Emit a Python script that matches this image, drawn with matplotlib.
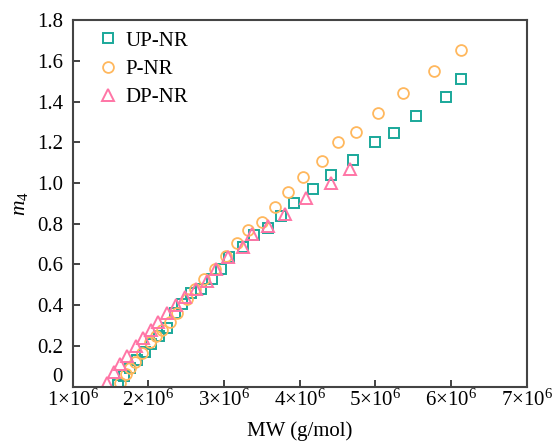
import matplotlib
matplotlib.use("Agg")
import matplotlib.pyplot as plt

plt.rcParams['font.family'] = ['Liberation Serif', 'DejaVu Serif']
plt.rcParams['mathtext.fontset'] = 'custom'
plt.rcParams['mathtext.rm'] = 'Liberation Serif'
plt.rcParams['mathtext.it'] = 'Liberation Serif:italic'

# MW in units of 1e6 g/mol
up_x = [1.60, 1.68, 1.76, 1.85, 1.95, 2.04, 2.14, 2.24, 2.35, 2.45, 2.57, 2.70, 2.84, 2.96,
        3.07, 3.25, 3.39, 3.58, 3.75, 3.92, 4.17, 4.42, 4.70, 4.99, 5.24, 5.54, 5.94, 6.13]
up_y = [0.01, 0.05, 0.09, 0.13, 0.17, 0.21, 0.25, 0.29, 0.36, 0.405, 0.46, 0.48, 0.53, 0.58,
        0.635, 0.685, 0.745, 0.78, 0.84, 0.90, 0.97, 1.04, 1.115, 1.20, 1.245, 1.33, 1.42, 1.51]

p_x = [1.62, 1.70, 1.76, 1.82, 1.92, 2.02, 2.10, 2.18, 2.28, 2.38, 2.51, 2.62, 2.74, 2.88,
       3.02, 3.17, 3.32, 3.50, 3.67, 3.84, 4.04, 4.29, 4.51, 4.75, 5.03, 5.37, 5.78, 6.13]
p_y = [0.02, 0.06, 0.09, 0.12, 0.165, 0.22, 0.25, 0.28, 0.32, 0.36, 0.43, 0.48, 0.53, 0.58,
       0.64, 0.705, 0.77, 0.81, 0.88, 0.955, 1.03, 1.108, 1.20, 1.25, 1.343, 1.44, 1.55, 1.653]

dp_x = [1.45, 1.55, 1.63, 1.72, 1.83, 1.93, 2.03, 2.13, 2.25, 2.37, 2.49, 2.63, 2.77, 2.89,
        3.05, 3.25, 3.37, 3.58, 3.80, 4.08, 4.42, 4.67]
dp_y = [0.02, 0.07, 0.11, 0.15, 0.20, 0.24, 0.28, 0.32, 0.36, 0.40, 0.44, 0.48, 0.52, 0.58,
        0.635, 0.685, 0.75, 0.79, 0.85, 0.925, 1.00, 1.07]

x_ticks = [1, 2, 3, 4, 5, 6, 7]
x_ticklabels = [r'1$\times$10$^{6}$', r'2$\times$10$^{6}$', r'3$\times$10$^{6}$', r'4$\times$10$^{6}$',
                r'5$\times$10$^{6}$', r'6$\times$10$^{6}$', r'7$\times$10$^{6}$']
y_ticks = [0, 0.2, 0.4, 0.6, 0.8, 1.0, 1.2, 1.4, 1.6, 1.8]
y_ticklabels = ['0', '0.2', '0.4', '0.6', '0.8', '1.0', '1.2', '1.4', '1.6', '1.8']

fig = plt.figure(figsize=(5.55, 4.46), dpi=100)
ax = fig.add_axes([0.131, 0.133, 0.818, 0.822])

teal = '#1aa89a'
orange = '#ffb85e'
pink = '#ff75a6'

ax.plot(up_x, up_y, linestyle='none', marker='s', markersize=7, markerfacecolor='none',
        markeredgecolor=teal, markeredgewidth=1.4, label='UP-NR')
ax.plot(p_x, p_y, linestyle='none', marker='o', markersize=7.8, markerfacecolor='none',
        markeredgecolor=orange, markeredgewidth=1.3, label='P-NR')
ax.plot(dp_x, dp_y, linestyle='none', marker='^', markersize=8.5, markerfacecolor='none',
        markeredgecolor=pink, markeredgewidth=1.4, label='DP-NR')

ax.set_xlim(1, 7)
ax.set_ylim(0, 1.8)
ax.set_xticks(x_ticks)
ax.set_xticklabels(x_ticklabels)
ax.set_yticks(y_ticks)
ax.set_yticklabels(y_ticklabels)
ax.tick_params(direction='in', length=5, width=1.2, labelsize=15,
               top=False, right=False, colors='#222222', labelcolor='black')
ax.tick_params(axis='x', pad=2)
ax.tick_params(axis='y', pad=7)
ax.get_yticklabels()[0].set_va('bottom')
for s in ax.spines.values():
    s.set_linewidth(1.5)
    s.set_color('#444444')

ax.set_xlabel('MW (g/mol)', fontsize=15, labelpad=7.5)
ax.set_ylabel(r'$m_4$', fontsize=15.5, labelpad=5)

ax.legend(loc='upper left', frameon=False, fontsize=15, handletextpad=0.32,
          borderaxespad=0, borderpad=0, labelspacing=0.42, handlelength=1.0,
          bbox_to_anchor=(0.055, 0.97))

fig.savefig('out.png', dpi=100)
